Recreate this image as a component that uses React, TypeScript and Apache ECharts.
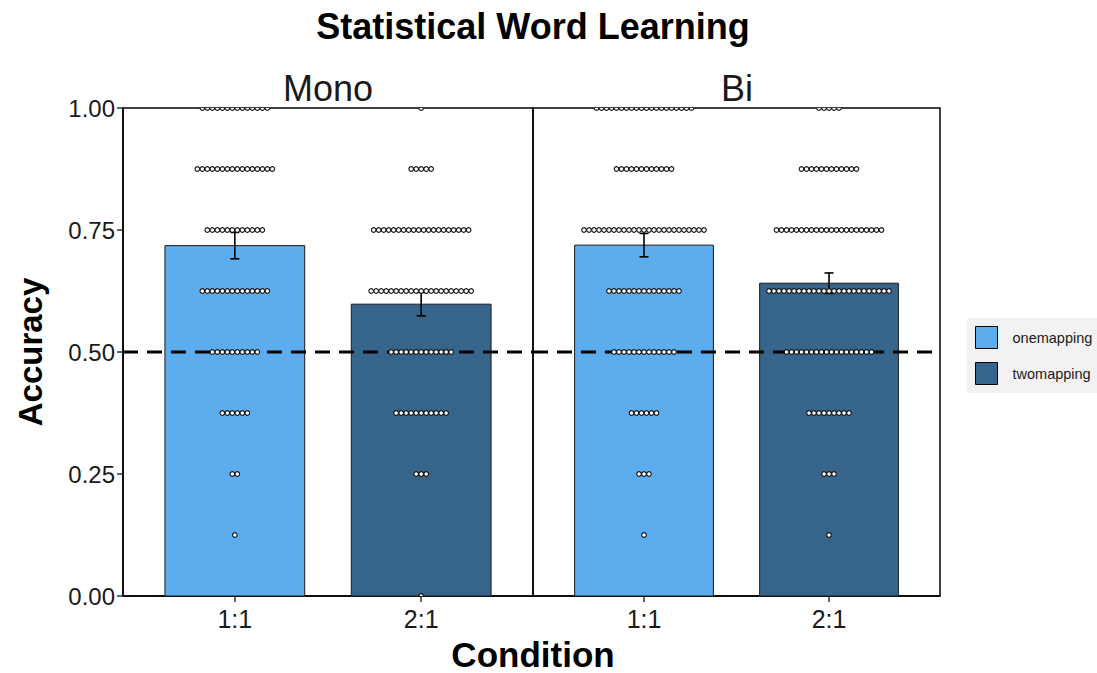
import React, { useEffect, useRef } from "react";
import * as echarts from "echarts";

// ---- data ----
const conditions = ["1:1", "2:1"];
const panels = ["Mono", "Bi"];
const fills = ["onemapping", "twomapping"];
const monoMeans = [0.718, 0.598];
const monoSE = [0.027, 0.024];
const biMeans = [0.719, 0.641];
const biSE = [0.024, 0.021];
const yTicks = [0, 0.25, 0.5, 0.75, 1];
const chance = 0.5;
// accuracy levels for individual participants and the count at each level
const levels = [0, 0.125, 0.25, 0.375, 0.5, 0.625, 0.75, 0.875, 1];
const monoOneCounts = [0, 1, 2, 6, 10, 14, 12, 16, 14];
const monoTwoCounts = [1, 0, 3, 11, 13, 21, 20, 5, 1];
const biOneCounts = [0, 1, 3, 6, 13, 15, 25, 12, 20];
const biTwoCounts = [0, 1, 3, 9, 18, 25, 22, 12, 5];

const COLORS = { onemapping: "#5CACEE", twomapping: "#36648B" };
const FONT = "Liberation Sans, Arial, sans-serif";
const DOT_SPACING = 5;
const DOT_R = 2.3;
const BAR_HALF = 0.375;

function dotRows(counts: number[], x: number) {
  const rows: number[][] = [];
  levels.forEach((lv, i) => {
    if (counts[i] > 0) rows.push([x, lv, counts[i]]);
  });
  return rows;
}

const renderBar = (params: any, api: any) => {
  const x = api.value(0);
  const v = api.value(1);
  const p1 = api.coord([x - BAR_HALF, v]);
  const p2 = api.coord([x + BAR_HALF, 0]);
  return {
    type: "rect",
    shape: { x: p1[0], y: p1[1], width: p2[0] - p1[0], height: p2[1] - p1[1] },
    style: { fill: api.visual("color"), stroke: "#1a1a1a", lineWidth: 1 },
  };
};

const renderErr = (params: any, api: any) => {
  const x = api.value(0);
  const m = api.value(1);
  const se = api.value(2);
  const top = api.coord([x, m + se]);
  const bot = api.coord([x, m - se]);
  const cap = 4.5;
  const st = { stroke: "#000", lineWidth: 1.6 };
  return {
    type: "group",
    children: [
      { type: "line", shape: { x1: top[0], y1: top[1], x2: bot[0], y2: bot[1] }, style: st },
      { type: "line", shape: { x1: top[0] - cap, y1: top[1], x2: top[0] + cap, y2: top[1] }, style: st },
      { type: "line", shape: { x1: bot[0] - cap, y1: bot[1], x2: bot[0] + cap, y2: bot[1] }, style: st },
    ],
  };
};

const renderDots = (params: any, api: any) => {
  const n = api.value(2);
  const c = api.coord([api.value(0), api.value(1)]);
  const children: any[] = [];
  for (let i = 0; i < n; i++) {
    children.push({
      type: "circle",
      shape: { cx: c[0] + (i - (n - 1) / 2) * DOT_SPACING, cy: c[1], r: DOT_R },
      style: { fill: "#fff", stroke: "#111", lineWidth: 1.1 },
    });
  }
  return { type: "group", children };
};

export default function App() {
  const ref = useRef<HTMLDivElement>(null);
  useEffect(() => {
    document.body.style.margin = "0";
    if (!ref.current) return;
    const chart = echarts.init(ref.current, undefined, { renderer: "svg" });

    const grids = [
      { left: 123, top: 108, width: 410, height: 488 },
      { left: 533, top: 108, width: 407, height: 488 },
    ];
    const means = [monoMeans, biMeans];
    const ses = [monoSE, biSE];
    const counts = [
      [monoOneCounts, monoTwoCounts],
      [biOneCounts, biTwoCounts],
    ];

    const series: any[] = [];
    grids.forEach((g, gi) => {
      conditions.forEach((c, ci) => {
        const name = fills[ci];
        series.push({
          type: "custom",
          name,
          xAxisIndex: gi,
          yAxisIndex: gi,
          itemStyle: { color: (COLORS as any)[name], borderColor: "#000", borderWidth: 1 },
          renderItem: renderBar,
          data: [[ci + 1, means[gi][ci]]],
          z: 1,
        });
      });
      series.push({
        type: "line",
        xAxisIndex: gi,
        yAxisIndex: gi,
        data: [[0.4, chance], [2.6, chance]],
        symbol: "none",
        lineStyle: { color: "#000", width: 3, type: [15, 9] },
        z: 2,
        silent: true,
      });
      series.push({
        type: "custom",
        xAxisIndex: gi,
        yAxisIndex: gi,
        renderItem: renderErr,
        data: conditions.map((c, ci) => [ci + 1, means[gi][ci], ses[gi][ci]]),
        z: 3,
      });
      series.push({
        type: "custom",
        xAxisIndex: gi,
        yAxisIndex: gi,
        clip: true,
        renderItem: renderDots,
        data: [...dotRows(counts[gi][0], 1), ...dotRows(counts[gi][1], 2)],
        z: 4,
      });
    });

    const option: any = {
      animation: false,
      textStyle: { fontFamily: FONT },
      grid: grids.map((g) => ({ ...g, show: true, borderColor: "#000", borderWidth: 1.5, backgroundColor: "transparent" })),
      xAxis: grids.map((g, gi) => ({
        type: "value",
        gridIndex: gi,
        min: 0.4,
        max: 2.6,
        splitLine: { show: false },
        axisLine: { show: true, lineStyle: { color: "#000", width: 1.5 } },
        axisTick: { show: true, customValues: [1, 2], length: 6, lineStyle: { color: "#333", width: 1.5 } },
        axisLabel: {
          customValues: [1, 2],
          formatter: (v: number) => conditions[Math.round(v) - 1] ?? "",
          fontSize: 25,
          color: "#1a1a1a",
          margin: 10,
          fontFamily: FONT,
        },
      })),
      yAxis: grids.map((g, gi) => ({
        type: "value",
        gridIndex: gi,
        min: 0,
        max: 1,
        interval: 0.25,
        splitLine: { show: false },
        axisLine: { show: gi === 0, lineStyle: { color: "#000", width: 1.5 } },
        axisTick: { show: gi === 0, length: 6, lineStyle: { color: "#333", width: 1.5 } },
        axisLabel: {
          show: gi === 0,
          formatter: (v: number) => (yTicks.includes(v) ? v.toFixed(2) : ""),
          fontSize: 24,
          color: "#1a1a1a",
          margin: 8,
          fontFamily: FONT,
        },
      })),
      legend: {
        orient: "vertical",
        left: 967,
        top: 318,
        data: fills.map((f) => ({ name: f, icon: "rect" })),
        itemWidth: 22,
        itemHeight: 22,
        itemGap: 13,
        padding: [8, 8, 8, 8],
        backgroundColor: "#f2f2f2",
        textStyle: { fontSize: 14.5, color: "#1a1a1a", fontFamily: FONT, padding: [0, 0, 0, 10] },
        itemStyle: { borderColor: "#000", borderWidth: 1 },
      },
      graphic: [
        {
          type: "text",
          x: 533,
          y: 26,
          style: { text: "Statistical Word Learning", font: `bold 36px ${FONT}`, fill: "#000", textAlign: "center", textVerticalAlign: "middle" },
        },
        {
          type: "text",
          x: 328,
          y: 88,
          style: { text: panels[0], font: `36px ${FONT}`, fill: "#1a1a1a", textAlign: "center", textVerticalAlign: "middle" },
        },
        {
          type: "text",
          x: 737,
          y: 88,
          style: { text: panels[1], font: `36px ${FONT}`, fill: "#1a1a1a", textAlign: "center", textVerticalAlign: "middle" },
        },
        {
          type: "text",
          x: 533,
          y: 654,
          style: { text: "Condition", font: `bold 35px ${FONT}`, fill: "#000", textAlign: "center", textVerticalAlign: "middle" },
        },
        {
          type: "text",
          x: 30,
          y: 352,
          rotation: Math.PI / 2,
          style: { text: "Accuracy", font: `bold 33px ${FONT}`, fill: "#000", textAlign: "center", textVerticalAlign: "middle" },
        },
      ],
      series,
    };
    chart.setOption(option);
    return () => chart.dispose();
  }, []);
  return <div ref={ref} style={{ width: 1097, height: 673 }} />;
}
